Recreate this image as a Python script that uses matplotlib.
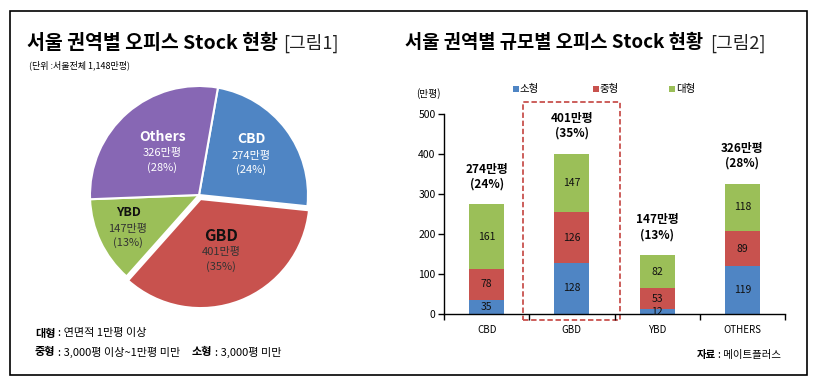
import matplotlib
matplotlib.use("Agg")
import matplotlib.pyplot as plt
import numpy as np
from matplotlib.patches import Rectangle
import matplotlib.transforms as mtransforms

plt.rcParams['font.family'] = ['Noto Sans CJK KR', 'DejaVu Sans']

# ---- data ----
pie_labels = ["CBD", "GBD", "YBD", "Others"]
pie_values = [274, 401, 147, 326]
pie_pcts = [24, 35, 13, 28]

bar_categories = ["CBD", "GBD", "YBD", "OTHERS"]
small = [35, 128, 12, 119]    # 소형
medium = [78, 126, 53, 89]    # 중형
large = [161, 147, 82, 118]   # 대형
totals = [274, 401, 147, 326]
total_pcts = [24, 35, 13, 28]
series_names = ["소형", "중형", "대형"]
yticks = [0, 100, 200, 300, 400, 500]

# ---- styles ----
pie_colors = ["#4f85c4", "#c8524e", "#9bbf58", "#8767b4"]
bar_colors = ["#4f85c4", "#c8524e", "#9bbf58"]

W, H = 817, 388
fig = plt.figure(figsize=(W / 100, H / 100), dpi=100)

def fx(x):
    return x / W

def fy(y):
    return 1 - y / H

# outer border
fig.patches.append(Rectangle((fx(10), fy(375)), fx(797), 364 / H, transform=fig.transFigure,
                             fill=False, edgecolor="black", linewidth=1.2))

# ---- titles ----
t1 = fig.text(fx(27), fy(43), "서울 권역별 오피스 Stock 현황", fontsize=14, fontweight="bold",
              va="center", ha="left")
fig.text(fx(283), fy(43), "[그림1]", fontsize=13, va="center", ha="left", color="#222222")
fig.text(fx(29), fy(65), "(단위 :서울전체 1,148만평)", fontsize=6.5, va="center", ha="left")

fig.text(fx(405), fy(43), "서울 권역별 규모별 오피스 Stock 현황", fontsize=13.5, fontweight="bold",
         va="center", ha="left")
fig.text(fx(710), fy(43), "[그림2]", fontsize=13, va="center", ha="left", color="#222222")

# ---- pie ----
cx, cy, r = 199, 195, 109
axp = fig.add_axes([fx(cx - r * 1.2), fy(cy + r * 1.2), fx(2.4 * r), 2.4 * r / H])
wedges, _ = axp.pie(pie_values, colors=pie_colors, startangle=80, counterclock=False,
                    explode=[0, 0.04, 0, 0], radius=1.0,
                    wedgeprops=dict(linewidth=1.5, edgecolor="white"))
axp.set_xlim(-1.2, 1.2)
axp.set_ylim(-1.2, 1.2)
axp.set_aspect("equal")
axp.axis("off")

label_dist = [0.6, 0.52, 0.72, 0.51]
title_colors = ["white", "#111111", "#111111", "white"]
num_colors = ["white", "#333333", "#333333", "white"]
title_sizes = [10, 11.5, 9, 10]
for w, name, val, pct, d, tc, nc, ts in zip(wedges, pie_labels, pie_values, pie_pcts,
                                           label_dist, title_colors, num_colors, title_sizes):
    ang = np.deg2rad((w.theta1 + w.theta2) / 2)
    x0, y0 = w.center
    x = x0 + d * np.cos(ang)
    y = y0 + d * np.sin(ang)
    axp.text(x, y + 0.15, name, ha="center", va="center", fontsize=ts, fontweight="bold", color=tc)
    axp.text(x, y + 0.0, f"{val}만평", ha="center", va="center", fontsize=8, color=nc)
    axp.text(x, y - 0.13, f"({pct}%)", ha="center", va="center", fontsize=8, color=nc)

# footnotes
fs = 8
fig.text(fx(35), fy(333), "대형", fontsize=fs, fontweight="bold", va="center", ha="left")
fig.text(fx(58), fy(333), ": 연면적 1만평 이상", fontsize=fs, va="center", ha="left")
fig.text(fx(35), fy(352), "중형", fontsize=fs, fontweight="bold", va="center", ha="left")
fig.text(fx(58), fy(352), ": 3,000평 이상~1만평 미만", fontsize=fs, va="center", ha="left")
fig.text(fx(192), fy(352), "소형", fontsize=fs, fontweight="bold", va="center", ha="left")
fig.text(fx(215), fy(352), ": 3,000평 미만", fontsize=fs, va="center", ha="left")

# ---- bar chart ----
ax_l, ax_r, ax_t, ax_b = 444, 785, 114, 314
axb = fig.add_axes([fx(ax_l), fy(ax_b), fx(ax_r - ax_l), (ax_b - ax_t) / H])
x = np.arange(len(bar_categories))
bw = 0.41
bottoms = np.zeros(len(x))
for vals, col in zip([small, medium, large], bar_colors):
    axb.bar(x, vals, bw, bottom=bottoms, color=col, linewidth=0)
    for xi, b, v in zip(x, bottoms, vals):
        axb.text(xi, b + v / 2, str(v), ha="center", va="center", fontsize=7.5, color="#111111")
    bottoms = bottoms + np.array(vals)

for xi, t, p in zip(x, totals, total_pcts):
    axb.annotate(f"{t}만평\n({p}%)", xy=(xi, t), xytext=(0, 10), textcoords="offset points",
                 ha="center", va="bottom", fontsize=8.5, fontweight="bold", linespacing=1.2)

axb.set_xlim(-0.5, len(x) - 0.5)
axb.set_ylim(0, 500)
axb.set_yticks(yticks)
axb.set_yticklabels([str(v) for v in yticks], fontsize=7.5)
axb.set_xticks(x)
axb.set_xticklabels(bar_categories, fontsize=7)
axb.tick_params(axis="x", length=0, pad=8)
axb.tick_params(axis="y", length=4, width=1, pad=2)
axb.set_xticks(np.arange(-0.5, len(x)), minor=True)
axb.tick_params(axis="x", which="minor", length=4, width=1, direction="out")
for s in ["top", "right"]:
    axb.spines[s].set_visible(False)
axb.spines["left"].set_linewidth(1)
axb.spines["bottom"].set_linewidth(1)

# dashed highlight around GBD
trans = mtransforms.blended_transform_factory(axb.transData, axb.transAxes)
axb.add_patch(Rectangle((1 - 0.57, -0.03), 1.14, 1.09, transform=trans, fill=False,
                        edgecolor="#c8524e", linestyle=(0, (3, 1.5)), linewidth=1.3,
                        clip_on=False))

# legend
leg_x = [513, 593, 669]
for hx, c, name in zip(leg_x, bar_colors, series_names):
    fig.patches.append(Rectangle((fx(hx), fy(92)), fx(6), 6 / H, transform=fig.transFigure,
                                 facecolor=c, edgecolor="none"))
    fig.text(fx(hx + 7), fy(89), name, fontsize=7.5, va="center", ha="left")

fig.text(fx(428), fy(94), "(만평)", fontsize=7, va="center", ha="center")

# source
fig.text(fx(697), fy(355), "자료", fontsize=7.5, fontweight="bold", va="center", ha="left")
fig.text(fx(718), fy(355), ": 메이트플러스", fontsize=7.5, va="center", ha="left")

fig.savefig("out.png", dpi=100)
